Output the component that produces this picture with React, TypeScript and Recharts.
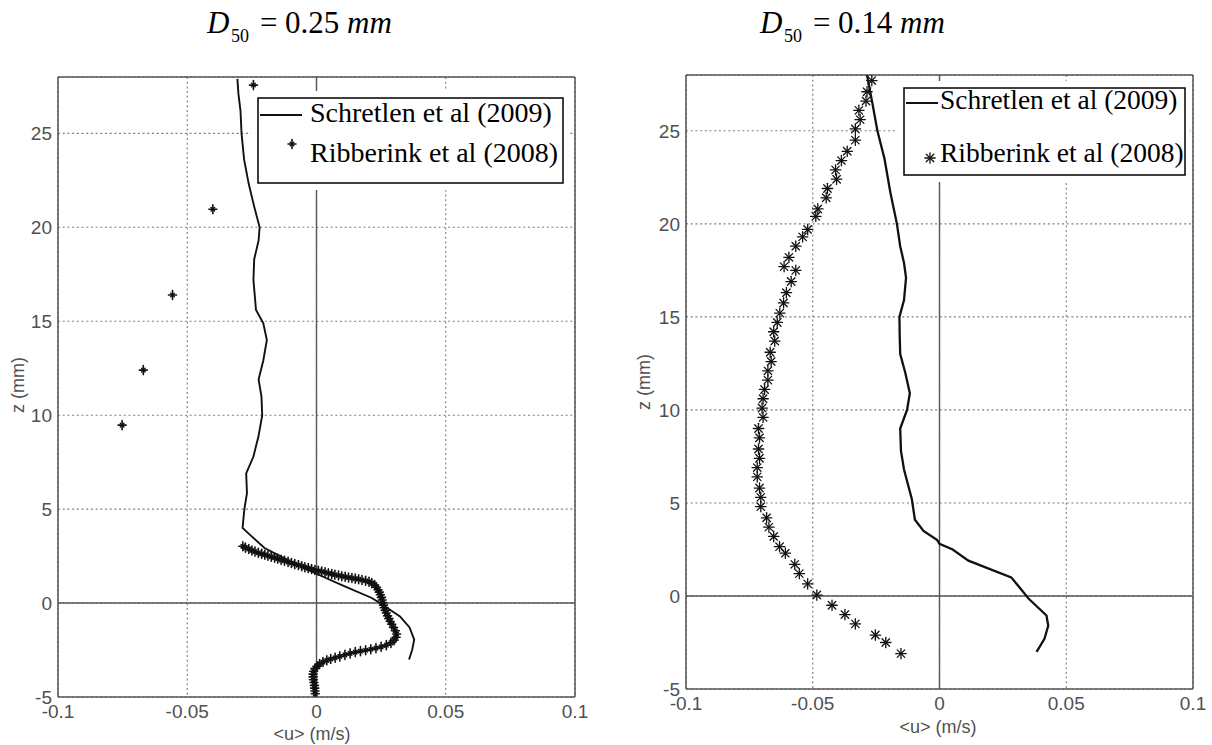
import React from 'react';
import { ScatterChart, Scatter, XAxis, YAxis, CartesianGrid, ReferenceLine } from 'recharts';

// Axis set-up shared by both panels
const uTicks = [-0.1, -0.05, 0, 0.05, 0.1];
const zTicks = [-5, 0, 5, 10, 15, 20, 25];
const uDomain: [number, number] = [-0.1, 0.1];
const zDomain: [number, number] = [-5, 28];

const seriesNames = ['Schretlen et al (2009)', 'Ribberink et al (2008)'];
const grainSizes = ['0.25', '0.14'];
const uLabel = '<u> (m/s)';
const zLabel = 'z (mm)';

type P = { u: number; z: number };
const pts = (rows: number[][]): P[] => rows.map(([u, z]) => ({ u, z }));

// D50 = 0.25 mm : model profile [u, z]
const modelCoarse = pts([
  [-0.0306, 27.9], [-0.0302, 27.1], [-0.0294, 26.2], [-0.029, 25.0], [-0.028, 23.6],
  [-0.0262, 22.3], [-0.0241, 21.1], [-0.022, 20.0], [-0.0224, 19.3], [-0.0241, 18.3],
  [-0.0244, 17.2], [-0.0234, 15.6], [-0.0206, 14.9], [-0.0192, 14.0], [-0.0206, 12.9],
  [-0.0224, 11.9], [-0.0213, 11.0], [-0.021, 10.0], [-0.0224, 8.9], [-0.0244, 7.8],
  [-0.0272, 6.9], [-0.0269, 5.85], [-0.0279, 5.0], [-0.0286, 4.0], [-0.0255, 3.6],
  [-0.0201, 2.93], [-0.0105, 2.25], [-0.0007, 1.6], [0.0105, 0.92], [0.0214, 0.27],
  [0.0245, 0.0], [0.0323, -0.71], [0.036, -1.3], [0.0378, -1.95], [0.037, -2.5],
  [0.0358, -3.0],
]);

// D50 = 0.25 mm : measured profile [u, z]
const measCoarse = pts([
  [-0.0244, 27.57], [-0.0401, 20.96], [-0.0557, 16.4], [-0.067, 12.4], [-0.0752, 9.47],
  [-0.0285, 3.02], [-0.0275, 2.95], [-0.0262, 2.88], [-0.025, 2.8], [-0.0238, 2.74],
  [-0.0225, 2.68], [-0.0212, 2.62], [-0.02, 2.57], [-0.0188, 2.52], [-0.0175, 2.47],
  [-0.0162, 2.41], [-0.015, 2.36], [-0.0137, 2.3], [-0.0124, 2.25], [-0.011, 2.19],
  [-0.0097, 2.13], [-0.0084, 2.07], [-0.007, 2.02], [-0.0057, 1.96], [-0.0045, 1.91],
  [-0.0032, 1.86], [-0.0019, 1.81], [-0.0006, 1.76], [0.0007, 1.72], [0.002, 1.68],
  [0.0033, 1.64], [0.0046, 1.59], [0.0059, 1.55], [0.0071, 1.51], [0.0085, 1.47],
  [0.0098, 1.43], [0.0111, 1.4], [0.0124, 1.36], [0.0137, 1.33], [0.015, 1.3],
  [0.0163, 1.27], [0.0176, 1.23], [0.019, 1.19], [0.0203, 1.13], [0.0214, 1.06],
  [0.0225, 0.96], [0.0232, 0.84], [0.0238, 0.71], [0.0243, 0.58], [0.0247, 0.44],
  [0.0251, 0.3], [0.0254, 0.16], [0.0256, 0.03], [0.0259, -0.11], [0.0262, -0.25],
  [0.0266, -0.39], [0.027, -0.53], [0.0275, -0.68], [0.028, -0.83], [0.0285, -0.98],
  [0.0291, -1.13], [0.0298, -1.3], [0.0305, -1.47], [0.031, -1.65], [0.0308, -1.82],
  [0.03, -1.98], [0.0288, -2.12], [0.027, -2.24], [0.025, -2.33], [0.023, -2.4],
  [0.021, -2.46], [0.019, -2.51], [0.017, -2.56], [0.015, -2.61], [0.013, -2.68],
  [0.011, -2.76], [0.009, -2.84], [0.0072, -2.91], [0.0055, -2.98], [0.004, -3.05],
  [0.0025, -3.14], [0.0012, -3.24], [0.0002, -3.36], [-0.0006, -3.49], [-0.0011, -3.63],
  [-0.0013, -3.78], [-0.0013, -3.93], [-0.0012, -4.08], [-0.001, -4.23], [-0.0008, -4.38],
  [-0.0007, -4.53], [-0.0006, -4.68], [-0.0005, -4.83],
]);

// D50 = 0.14 mm : model profile [u, z]
const modelFine = pts([
  [-0.0286, 28.0], [-0.0265, 26.5], [-0.0245, 25.0], [-0.0217, 23.5], [-0.0194, 21.7],
  [-0.0168, 20.0], [-0.0155, 18.8], [-0.014, 17.9], [-0.0132, 17.1], [-0.014, 15.9],
  [-0.0158, 15.0], [-0.0157, 14.0], [-0.0155, 13.0], [-0.0135, 12.0], [-0.0117, 10.9],
  [-0.0128, 10.0], [-0.0155, 9.0], [-0.0152, 7.8], [-0.014, 6.8], [-0.0109, 5.2],
  [-0.0097, 4.1], [-0.0063, 3.5], [-0.0009, 3.0], [0.0, 2.8], [0.0052, 2.5],
  [0.0114, 1.9], [0.0283, 1.0], [0.0352, -0.15], [0.0422, -1.05], [0.0429, -1.6],
  [0.0414, -2.3], [0.0383, -3.0],
]);

// D50 = 0.14 mm : measured profile [u, z]
const measFine = pts([
  [-0.0267, 27.7], [-0.0286, 27.1], [-0.029, 26.6], [-0.0318, 26.1], [-0.0313, 25.6],
  [-0.0332, 25.1], [-0.0332, 24.5], [-0.0364, 23.9], [-0.0387, 23.4], [-0.041, 22.9],
  [-0.0406, 22.4], [-0.0442, 21.9], [-0.0447, 21.4], [-0.048, 20.8], [-0.0488, 20.4],
  [-0.052, 19.7], [-0.054, 19.3], [-0.0567, 18.8], [-0.0594, 18.2], [-0.0613, 17.7],
  [-0.0567, 17.5], [-0.0585, 16.9], [-0.0604, 16.3], [-0.0615, 15.75], [-0.063, 15.2],
  [-0.064, 14.7], [-0.0654, 14.2], [-0.065, 13.7], [-0.0668, 13.1], [-0.0664, 12.6],
  [-0.0677, 12.1], [-0.0677, 11.6], [-0.069, 11.1], [-0.0696, 10.6], [-0.07, 10.1],
  [-0.0696, 9.6], [-0.0714, 9.0], [-0.071, 8.5], [-0.0714, 7.9], [-0.071, 7.4],
  [-0.0719, 6.9], [-0.0719, 6.4], [-0.071, 5.8], [-0.0705, 5.3], [-0.0705, 4.8],
  [-0.0682, 4.2], [-0.0673, 3.7], [-0.0654, 3.2], [-0.0631, 2.65], [-0.0608, 2.3],
  [-0.0571, 1.7], [-0.0553, 1.2], [-0.052, 0.65], [-0.0484, 0.05], [-0.0424, -0.5],
  [-0.0373, -1.0], [-0.0332, -1.5], [-0.0253, -2.1], [-0.0212, -2.5], [-0.0152, -3.1],
]);

const INK = '#111';
const AXIS = '#555';
const sans = '"Liberation Sans", Arial, sans-serif';
const serif = '"Liberation Serif", "Times New Roman", serif';
const tickStyle = { fontSize: 19, fill: '#505050', fontFamily: sans };

// '*' style marker: plus + cross
function Asterisk({ cx, cy, r, w }: { cx: number; cy: number; r: number; w: number }) {
  const d = r * 0.72;
  return (
    <g stroke={INK} strokeWidth={w} strokeLinecap="round">
      <line x1={cx - r} y1={cy} x2={cx + r} y2={cy} />
      <line x1={cx} y1={cy - r} x2={cx} y2={cy + r} />
      <line x1={cx - d} y1={cy - d} x2={cx + d} y2={cy + d} />
      <line x1={cx - d} y1={cy + d} x2={cx + d} y2={cy - d} />
    </g>
  );
}

// small four-point star marker
function Sparkle({ cx, cy }: { cx: number; cy: number }) {
  return (
    <g stroke={INK} strokeLinecap="round">
      <line x1={cx} y1={cy - 4.5} x2={cx} y2={cy + 4.5} strokeWidth={1.6} />
      <line x1={cx - 4} y1={cy} x2={cx + 4} y2={cy} strokeWidth={1.6} />
      <line x1={cx - 1.8} y1={cy - 1.8} x2={cx + 1.8} y2={cy + 1.8} strokeWidth={1.4} />
      <line x1={cx - 1.8} y1={cy + 1.8} x2={cx + 1.8} y2={cy - 1.8} strokeWidth={1.4} />
    </g>
  );
}

const coarseMarker = (p: any) => <Sparkle cx={p.cx} cy={p.cy} />;
const fineMarker = (p: any) => <Asterisk cx={p.cx} cy={p.cy} r={5.2} w={1.3} />;
const noMarker = () => <g />;

// axis boxes: bottom axis height and left axis width are taken out of the margins
const X_AXIS_H = 30;
const Y_AXIS_W = 50;

type PanelProps = {
  width: number;
  box: { top: number; right: number; bottom: number; left: number };
  model: P[];
  meas: P[];
  lineWidth: number;
  marker: (p: any) => React.ReactElement;
};

function Panel({ width, box, model, meas, lineWidth, marker }: PanelProps) {
  const axisLine = { stroke: AXIS, strokeWidth: 1.5 };
  const margin = {
    top: box.top,
    right: box.right,
    bottom: box.bottom - X_AXIS_H,
    left: box.left - Y_AXIS_W,
  };
  return (
    <ScatterChart width={width} height={745} margin={margin}>
      <CartesianGrid stroke="#7d7d7d" strokeWidth={1.1} strokeDasharray="2 2.7" />
      <XAxis
        type="number" dataKey="u" domain={uDomain} ticks={uTicks} allowDataOverflow interval={0}
        height={X_AXIS_H} tickLine={false} tickSize={0} tickMargin={8} axisLine={axisLine} tick={tickStyle}
      />
      <XAxis
        xAxisId="top" orientation="top" mirror type="number" dataKey="u" domain={uDomain}
        ticks={uTicks} allowDataOverflow interval={0} height={30} tick={false} tickSize={6}
        tickLine={{ stroke: AXIS, strokeWidth: 1.3 }} axisLine={axisLine}
      />
      <YAxis
        type="number" dataKey="z" domain={zDomain} ticks={zTicks} allowDataOverflow interval={0}
        width={Y_AXIS_W} tickLine={false} tickSize={0} tickMargin={6} axisLine={axisLine} tick={tickStyle}
      />
      <YAxis
        yAxisId="right" orientation="right" mirror type="number" dataKey="z" domain={zDomain}
        ticks={zTicks} allowDataOverflow interval={0} width={30} tick={false} tickSize={6}
        tickLine={{ stroke: AXIS, strokeWidth: 1.3 }} axisLine={axisLine}
      />
      <ReferenceLine x={0} stroke={AXIS} strokeWidth={1.4} />
      <ReferenceLine y={0} stroke={AXIS} strokeWidth={1.4} />
      <Scatter
        name={seriesNames[0]} data={model} line={{ stroke: INK, strokeWidth: lineWidth }}
        shape={noMarker} isAnimationActive={false}
      />
      <Scatter name={seriesNames[1]} data={meas} shape={marker} isAnimationActive={false} />
    </ScatterChart>
  );
}

function Title({ x, value }: { x: number; value: string }) {
  return (
    <g fontFamily={serif} fill="#000">
      <text x={x} y={33} fontSize={31} fontStyle="italic">D</text>
      <text x={x + 24} y={42} fontSize={18}>50</text>
      <text x={x + 53} y={33} fontSize={31}>=</text>
      <text x={x + 78} y={33} fontSize={31}>{value}</text>
      <text x={x + 140} y={33} fontSize={31} fontStyle="italic">mm</text>
    </g>
  );
}

type LegendProps = {
  x: number; y: number; w: number; h: number; padR: number;
  lineX1: number; lineX2: number; lineY: number; textX: number;
  base1: number; base2: number; fontSize: number;
  mark: React.ReactElement;
};

function LegendBox(p: LegendProps) {
  return (
    <g>
      <rect x={p.x - 7} y={p.y - 7} width={p.w + 7 + p.padR} height={p.h + 14} fill="#fff" />
      <rect x={p.x} y={p.y} width={p.w} height={p.h} fill="#fff" stroke="#000" strokeWidth={1.5} />
      <line x1={p.lineX1} y1={p.lineY} x2={p.lineX2} y2={p.lineY} stroke={INK} strokeWidth={2} />
      <text x={p.textX} y={p.base1} fontFamily={serif} fontSize={p.fontSize} fill="#000">{seriesNames[0]}</text>
      {p.mark}
      <text x={p.textX} y={p.base2} fontFamily={serif} fontSize={p.fontSize} fill="#000">{seriesNames[1]}</text>
    </g>
  );
}

export default function App() {
  const labelFont = { fontFamily: sans, fontSize: 18, fill: '#505050' };
  return (
    <div style={{ position: 'absolute', left: 0, top: 0, width: 1212, height: 745, background: '#fff', overflow: 'hidden' }}>
      <div style={{ position: 'absolute', left: 0, top: 0 }}>
        <Panel
          width={600} box={{ top: 77, right: 25, bottom: 48, left: 58 }}
          model={modelCoarse} meas={measCoarse} lineWidth={1.9} marker={coarseMarker}
        />
      </div>
      <div style={{ position: 'absolute', left: 600, top: 0 }}>
        <Panel
          width={612} box={{ top: 75, right: 19, bottom: 56, left: 86 }}
          model={modelFine} meas={measFine} lineWidth={2.3} marker={fineMarker}
        />
      </div>
      <svg width={1212} height={745} style={{ position: 'absolute', left: 0, top: 0, pointerEvents: 'none' }}>
        <Title x={207} value={grainSizes[0]} />
        <Title x={760} value={grainSizes[1]} />

        <text x={18} y={385} transform="rotate(-90 18 385)" textAnchor="middle" dominantBaseline="central" {...labelFont}>{zLabel}</text>
        <text x={644} y={382} transform="rotate(-90 644 382)" textAnchor="middle" dominantBaseline="central" {...labelFont}>{zLabel}</text>
        <text x={312} y={740} textAnchor="middle" {...labelFont}>{uLabel}</text>
        <text x={938} y={733} textAnchor="middle" {...labelFont}>{uLabel}</text>

        <LegendBox
          x={258} y={98} w={305} h={85} padR={7} fontSize={28}
          lineX1={260} lineX2={302} lineY={115} textX={310} base1={122} base2={162}
          mark={<Sparkle cx={292} cy={144} />}
        />
        <LegendBox
          x={904} y={88} w={281} h={87} padR={5} fontSize={27.5}
          lineX1={906} lineX2={938} lineY={103} textX={940} base1={109} base2={162}
          mark={<Asterisk cx={930} cy={158} r={5.2} w={1.3} />}
        />
      </svg>
    </div>
  );
}
